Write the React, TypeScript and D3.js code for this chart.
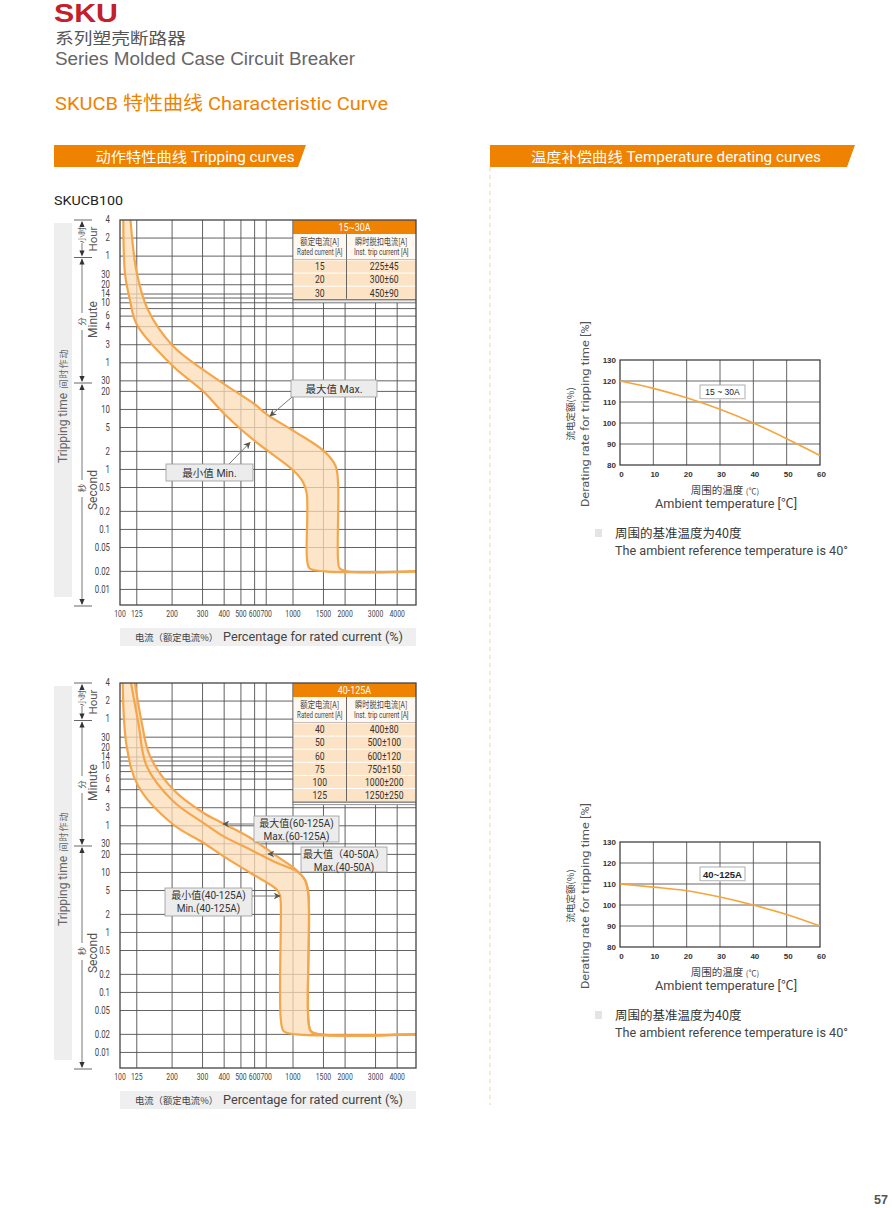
import React from 'react';
import * as d3 from 'd3';

type P = [number, number];

// ---------------- data ----------------
const CURRENT_TICKS = [100, 125, 200, 300, 400, 500, 600, 700, 1000, 1500, 2000, 3000, 4000];
const TIME_TICK_SECONDS = [14400, 7200, 3600, 1800, 1200, 840, 600, 360, 240, 120, 60, 30, 20, 10, 5, 2, 1, 0.5, 0.2, 0.1, 0.05, 0.02, 0.01];
const TIME_TICK_LABELS = ['4', '2', '1', '30', '20', '14', '10', '6', '4', '3', '1', '30', '20', '10', '5', '2', '1', '0.5', '0.2', '0.1', '0.05', '0.02', '0.01'];
const EXTRA_GRID_SECONDS = [720, 480];

// [percent of rated current, seconds]
const MAX_15_30: P[] = [
  [115, 14400], [125, 1900], [145, 460], [203, 113], [302, 46], [404, 26], [603, 12.1], [705, 8.3],
  [1013, 4.35], [1511, 2.02], [1760, 1.15], [1820, 0.62], [1820, 0.032], [1860, 0.0225], [2050, 0.02], [5140, 0.02],
];
const MIN_15_30: P[] = [
  [104.5, 14400], [107, 1780], [114, 680], [125, 261], [202, 53], [302, 20.2], [404, 8.25], [603, 2.96],
  [1013, 0.94], [1140, 0.62], [1200, 0.4], [1205, 0.032], [1245, 0.0225], [1530, 0.02], [5140, 0.02],
];
const MAX_60_125: P[] = [
  [122, 14400], [133.5, 3160], [149, 870], [203, 242], [303, 99], [395, 65.6], [565, 37.9], [805, 18.7],
  [1050, 10.9], [1170, 7.6], [1226, 4.5], [1226, 0.036], [1270, 0.0225], [1430, 0.02], [5140, 0.02],
];
const MAX_40_50: P[] = [
  [115.8, 14400], [127.6, 3126], [142.7, 591], [203, 154], [303, 67.3], [395, 40.3], [565, 24.2], [805, 14.5],
  [1050, 10.5], [1170, 7.6], [1226, 4.5], [1226, 0.036], [1270, 0.0225], [1430, 0.02], [5140, 0.02],
];
const MIN_40_125: P[] = [
  [103.7, 14400], [109.3, 1274], [127.6, 274], [203, 63], [303, 31.3], [395, 18.7], [565, 9.9], [805, 5.2],
  [840, 4.2], [850, 3.0], [850, 0.036], [885, 0.0225], [1050, 0.02], [5140, 0.02],
];

const TABLE_15_30_RATED = ['15', '20', '30'];
const TABLE_15_30_TRIP = ['225±45', '300±60', '450±90'];
const TABLE_40_125_RATED = ['40', '50', '60', '75', '100', '125'];
const TABLE_40_125_TRIP = ['400±80', '500±100', '600±120', '750±150', '1000±200', '1250±250'];

const TEMP_X = [0, 10, 20, 30, 40, 50, 60];
const TEMP_Y_TICKS = [80, 90, 100, 110, 120, 130];
const DERATE_15_30 = [120, 116.5, 112, 106.5, 100, 92.5, 84.5];
const DERATE_40_125 = [110, 108.5, 106.8, 103.8, 100, 95.5, 90];

// ---------------- styles ----------------
const ORANGE = '#ef8200';
const CURVE = '#f6a64a';
const BAND = '#fcdcb8';
const GRID = '#505050';
const LAT = "Roboto, 'Noto Sans CJK SC', sans-serif";
const CJK = "'Noto Sans CJK SC', sans-serif";
const ARIAL = "'Liberation Sans', Arial, 'Noto Sans CJK SC', sans-serif";

// ---------------- scales ----------------
const PL = 120, PR = 416, PT = 220, PB = 605;
const xS = d3.scaleLog().domain([100, 5140]).range([PL, PR]);
const yS = d3.scaleLog().domain([0.0055, 14400]).range([PB, PT]);
const lineGen = d3.line<P>().x(d => xS(d[0])).y(d => yS(d[1])).curve(d3.curveCatmullRom.alpha(0.5));

function bandPath(upper: P[], lower: P[]) {
  const a = lineGen(upper.slice(0, -1)) as string;
  const b = lineGen(lower.slice(0, -1).reverse()) as string;
  return a + 'L' + b.slice(1) + 'Z';
}

// condensed text (horizontal squeeze)
function CT({ x, y, anchor = 'middle', size = 9.5, fill = '#444', sx = 0.78, children, family = LAT }:
  { x: number; y: number; anchor?: string; size?: number; fill?: string; sx?: number; children: React.ReactNode; family?: string }) {
  return (
    <text transform={`translate(${x},${y}) scale(${sx},1)`} textAnchor={anchor as any} dominantBaseline="central"
      fontFamily={family} fontSize={size} fill={fill}>{children}</text>
  );
}

function Tri({ x, y, up, fill = '#333' }: { x: number; y: number; up: boolean; fill?: string }) {
  const d = up ? `M${x},${y}L${x - 2.6},${y + 6}L${x + 2.6},${y + 6}Z` : `M${x},${y}L${x - 2.6},${y - 6}L${x + 2.6},${y - 6}Z`;
  return <path d={d} fill={fill} />;
}

function YAxisDecor() {
  const lx = 82;
  return (
    <g>
      <rect x={54} y={223} width={18} height={374} fill="#eeeeee" />
      {['动', '作', '时', '间'].map((c, i) => (
        <text key={c} transform={`translate(63,${354 + i * 10}) rotate(-90)`} textAnchor="middle" dominantBaseline="central"
          fontFamily={CJK} fontSize={9} fill="#666">{c}</text>
      ))}
      <text transform="translate(63,428) rotate(-90)" textAnchor="middle" dominantBaseline="central" fontFamily={LAT} fontSize={12} fill="#666">Tripping time</text>
      {[220, 257.5, 383, 606].map(y => (
        <line key={y} x1={74} x2={92} y1={y} y2={y} stroke="#555" strokeWidth={0.9} />
      ))}
      {/* hour */}
      <line x1={lx} x2={lx} y1={222} y2={227} stroke="#555" strokeWidth={0.8} />
      <line x1={lx} x2={lx} y1={243} y2={255} stroke="#555" strokeWidth={0.8} />
      <Tri x={lx} y={221} up />
      <Tri x={lx} y={256.5} up={false} />
      <text transform={`translate(${lx - 1},235) rotate(-90)`} textAnchor="middle" dominantBaseline="central" fontFamily={CJK} fontSize={8} fill="#555">小时</text>
      <text transform="translate(93,239) rotate(-90)" textAnchor="middle" dominantBaseline="central" fontFamily={LAT} fontSize={11.5} fill="#555">Hour</text>
      {/* minute */}
      <line x1={lx} x2={lx} y1={259} y2={313} stroke="#555" strokeWidth={0.8} />
      <line x1={lx} x2={lx} y1={330} y2={381} stroke="#555" strokeWidth={0.8} />
      <Tri x={lx} y={258.5} up />
      <Tri x={lx} y={382} up={false} />
      <text transform={`translate(${lx - 1},321.5) rotate(-90)`} textAnchor="middle" dominantBaseline="central" fontFamily={CJK} fontSize={8.5} fill="#555">分</text>
      <text transform="translate(93,319.5) rotate(-90)" textAnchor="middle" dominantBaseline="central" fontFamily={LAT} fontSize={12} fill="#555">Minute</text>
      {/* second */}
      <line x1={lx} x2={lx} y1={385} y2={480} stroke="#555" strokeWidth={0.8} />
      <line x1={lx} x2={lx} y1={497} y2={604} stroke="#555" strokeWidth={0.8} />
      <Tri x={lx} y={384} up />
      <Tri x={lx} y={605} up={false} />
      <text transform={`translate(${lx - 1},488) rotate(-90)`} textAnchor="middle" dominantBaseline="central" fontFamily={CJK} fontSize={8.5} fill="#555">秒</text>
      <text transform="translate(93,490) rotate(-90)" textAnchor="middle" dominantBaseline="central" fontFamily={LAT} fontSize={12} fill="#555">Second</text>
    </g>
  );
}

function TripTable({ title, rated, trip }: { title: string; rated: string[]; trip: string[] }) {
  const x0 = xS(1000), x1 = 346.5, x2 = PR;
  const headH = 14, subH = 25.5, rowH = 13.1;
  const y0 = PT;
  const yRows = y0 + headH + subH;
  const yEnd = yRows + rowH * rated.length;
  return (
    <g>
      <rect x={x0} y={y0} width={x2 - x0} height={yEnd - y0 + 4} fill="#ffffff" />
      <rect x={x0} y={y0} width={x2 - x0} height={headH} fill={ORANGE} />
      <CT x={(x0 + x2) / 2} y={y0 + headH / 2 + 0.5} size={10.5} fill="#fff" sx={0.85}>{title}</CT>
      <rect x={x0} y={y0 + headH} width={x2 - x0} height={subH} fill="#fff8f0" />
      <CT x={(x0 + x1) / 2} y={y0 + headH + 7} size={9} family={CJK} fill="#444" sx={0.82}>额定电流[A]</CT>
      <CT x={(x0 + x1) / 2} y={y0 + headH + 18.5} size={8.5} fill="#444" sx={0.72}>Rated current [A]</CT>
      <CT x={(x1 + x2) / 2} y={y0 + headH + 7} size={9} family={CJK} fill="#444" sx={0.8}>瞬时脱扣电流[A]</CT>
      <CT x={(x1 + x2) / 2} y={y0 + headH + 18.5} size={8.5} fill="#444" sx={0.76}>Inst. trip current [A]</CT>
      {rated.map((r, i) => (
        <g key={r}>
          <rect x={x0} y={yRows + i * rowH + 1} width={x2 - x0} height={rowH - 1} fill="#fde3c5" />
          <CT x={(x0 + x1) / 2} y={yRows + i * rowH + rowH / 2 + 0.5} size={10.5} fill="#333" sx={0.82}>{r}</CT>
          <CT x={(x1 + x2) / 2 + 3} y={yRows + i * rowH + rowH / 2 + 0.5} size={10.5} fill="#333" sx={0.82}>{trip[i]}</CT>
        </g>
      ))}
      <line x1={x0} x2={x0} y1={y0} y2={yEnd + 4} stroke="#777" strokeWidth={0.8} />
      <line x1={x1} x2={x1} y1={y0 + headH} y2={yEnd} stroke="#555" strokeWidth={0.9} />
      <line x1={x0} x2={x2} y1={yRows} y2={yRows} stroke="#999" strokeWidth={0.6} />
      <line x1={x0} x2={x2} y1={yEnd + 1} y2={yEnd + 1} stroke="#444" strokeWidth={1} />
      <line x1={x0} x2={x2} y1={yEnd + 3.5} y2={yEnd + 3.5} stroke="#666" strokeWidth={0.7} />
    </g>
  );
}

type Note = { lines: string[]; x: number; y: number; w: number; h: number; from: P; to: P; size: number };

function TripChart({ dy, maxCurves, minCurve, bandUpper, title, rated, trip, notes, clipId }:
  { dy: number; maxCurves: P[][]; minCurve: P[]; bandUpper: P[]; title: string; rated: string[]; trip: string[]; notes: Note[]; clipId: string }) {
  const gridY = [...TIME_TICK_SECONDS.slice(1), ...EXTRA_GRID_SECONDS];
  return (
    <g transform={`translate(0,${dy})`}>
      <defs>
        <clipPath id={clipId}><rect x={PL} y={PT} width={PR - PL} height={PB - PT} /></clipPath>
        <marker id={clipId + 'arr'} viewBox="0 0 10 10" refX={9} refY={5} markerWidth={7} markerHeight={7} orient="auto">
          <path d="M0,0 L10,5 L0,10 L3,5 Z" fill="#555" />
        </marker>
      </defs>
      <YAxisDecor />
      <rect x={PL} y={PT} width={PR - PL} height={PB - PT} fill="#fff" />
      {CURRENT_TICKS.slice(1).map(v => (
        <line key={'v' + v} x1={xS(v)} x2={xS(v)} y1={PT} y2={PB} stroke={GRID} strokeWidth={0.9} />
      ))}
      {gridY.map(v => (
        <line key={'h' + v} x1={PL} x2={PR} y1={yS(v)} y2={yS(v)} stroke={GRID} strokeWidth={0.9} />
      ))}
      <g clipPath={`url(#${clipId})`}>
        <path d={bandPath(bandUpper, minCurve)} fill={BAND} fillOpacity={0.75} />
        {maxCurves.map((c, i) => (
          <path key={i} d={lineGen(c) as string} fill="none" stroke={CURVE} strokeWidth={2.2} />
        ))}
        <path d={lineGen(minCurve) as string} fill="none" stroke={CURVE} strokeWidth={2.2} />
      </g>
      <TripTable title={title} rated={rated} trip={trip} />
      <rect x={PL} y={PT} width={PR - PL} height={PB - PT} fill="none" stroke="#444" strokeWidth={1.3} />
      {TIME_TICK_SECONDS.map((v, i) => (
        <CT key={'yl' + i} x={110} y={yS(v)} anchor="end" size={10}>{TIME_TICK_LABELS[i]}</CT>
      ))}
      {CURRENT_TICKS.map(v => (
        <CT key={'xl' + v} x={xS(v)} y={614} size={9.5} sx={0.72}>{v}</CT>
      ))}
      <rect x={PL} y={628} width={PR - PL} height={18} fill="#efefef" />
      <text x={135} y={641} fontFamily={CJK} fontSize={9.5} fill="#444" textLength={83} lengthAdjust="spacingAndGlyphs">电流（额定电流%）</text>
      <text x={223} y={641} fontFamily={LAT} fontSize={12} fill="#444" textLength={180} lengthAdjust="spacingAndGlyphs">Percentage for rated current (%)</text>
      {notes.map((n, i) => (
        <g key={'n' + i}>
          <line x1={n.from[0]} y1={n.from[1]} x2={n.to[0]} y2={n.to[1]} stroke="#777" strokeWidth={1} markerEnd={`url(#${clipId}arr)`} />
          <rect x={n.x} y={n.y} width={n.w} height={n.h} fill="#ececec" stroke="#9a9a9a" strokeWidth={0.8} />
          {n.lines.map((l, j) => (
            <text key={j} x={n.x + n.w / 2} y={n.y + (n.lines.length === 1 ? n.h / 2 + 0.5 : 7.5 + j * 12.5)} textAnchor="middle" dominantBaseline="central"
              fontFamily={LAT} fontSize={n.size} fill="#333">{l}</text>
          ))}
        </g>
      ))}
    </g>
  );
}

const xT = d3.scaleLinear().domain([0, 60]).range([620, 820]);
const yT = d3.scaleLinear().domain([80, 130]).range([465, 360]);
const tempLine = d3.line<number>().x((_, i) => xT(TEMP_X[i])).y(d => yT(d)).curve(d3.curveMonotoneX);

function TempChart({ dy, values, label, bold }: { dy: number; values: number[]; label: string; bold?: boolean }) {
  return (
    <g transform={`translate(0,${dy})`}>
      <rect x={620} y={360} width={200} height={105} fill="#fff" />
      {TEMP_X.slice(1, -1).map(v => (
        <line key={'tv' + v} x1={xT(v)} x2={xT(v)} y1={360} y2={465} stroke="#555" strokeWidth={0.9} />
      ))}
      {TEMP_Y_TICKS.slice(1, -1).map(v => (
        <line key={'th' + v} x1={620} x2={820} y1={yT(v)} y2={yT(v)} stroke="#555" strokeWidth={0.9} />
      ))}
      <rect x={620} y={360} width={200} height={105} fill="none" stroke="#333" strokeWidth={1.2} />
      <path d={tempLine(values) as string} fill="none" stroke="#f5a53c" strokeWidth={1.6} />
      {TEMP_Y_TICKS.map(v => (
        <text key={'ty' + v} x={616} y={yT(v)} textAnchor="end" dominantBaseline="central" fontFamily={ARIAL} fontSize={8} fontWeight={700} fill="#333">{v}</text>
      ))}
      {TEMP_X.map(v => (
        <text key={'tx' + v} x={xT(v) + 1.5} y={474} textAnchor="middle" dominantBaseline="central" fontFamily={ARIAL} fontSize={8} fontWeight={700} fill="#333">{v}</text>
      ))}
      <rect x={700} y={385} width={45} height={13.5} fill="#fff" stroke="#999" strokeWidth={0.8} />
      <rect x={701} y={398.5} width={45} height={1} fill="#ddd" />
      <text x={722.5} y={392} textAnchor="middle" dominantBaseline="central" fontFamily={ARIAL} fontSize={bold ? 9.5 : 8.5} fontWeight={bold ? 700 : 400} fill="#222">{label}</text>
      <text transform="translate(570,414) rotate(-90)" textAnchor="middle" dominantBaseline="central" fontFamily={CJK} fontSize={9.5} fill="#444">流电定额(%)</text>
      <text transform="translate(585,414) rotate(-90)" textAnchor="middle" dominantBaseline="central" fontFamily={LAT} fontSize={11.5} fill="#555" textLength={186} lengthAdjust="spacingAndGlyphs">Derating rate for tripping time [%]</text>
      <text x={725} y={494} textAnchor="middle" fontFamily={CJK} fontSize={10.5} fill="#444">周围的温度 <tspan fontSize={8}>(℃)</tspan></text>
      <text x={726} y={508} textAnchor="middle" fontFamily={LAT} fontSize={12} fill="#444" textLength={142} lengthAdjust="spacingAndGlyphs">Ambient temperature [℃]</text>
      <rect x={595} y={529} width={7} height={8} fill="#e4e4e4" />
      <text x={615} y={538} fontFamily={CJK} fontSize={12.5} fill="#333">周围的基准温度为40度</text>
      <text x={615} y={555} fontFamily={LAT} fontSize={12} fill="#444" textLength={233} lengthAdjust="spacingAndGlyphs">The ambient reference temperature is 40°</text>
    </g>
  );
}

const NOTES_TOP: Note[] = [
  { lines: ['最大值 Max.'], x: 291, y: 380, w: 86, h: 17, from: [292, 397], to: [270, 416], size: 10.5 },
  { lines: ['最小值 Min.'], x: 166, y: 464, w: 87, h: 17, from: [229, 464], to: [250, 442.5], size: 10.5 },
];
const NOTES_BOTTOM: Note[] = [
  { lines: ['最大值(60-125A)', 'Max.(60-125A)'], x: 254, y: 353, w: 85, h: 26, from: [254, 361], to: [223, 361], size: 10 },
  { lines: ['最大值（40-50A）', 'Max.(40-50A)'], x: 301, y: 384, w: 86, h: 25, from: [301, 391], to: [268, 391], size: 10 },
  { lines: ['最小值(40-125A)', 'Min.(40-125A)'], x: 165, y: 425, w: 87, h: 28, from: [252, 433], to: [280, 433], size: 10 },
];

export default function App() {
  return (
    <svg width={892} height={1208} viewBox="0 0 892 1208" style={{ position: 'absolute', left: 0, top: 0, background: '#fff' }}>
      <rect x={0} y={0} width={892} height={1208} fill="#fff" />
      {/* header */}
      <text x={54} y={22} fontFamily={ARIAL} fontWeight={700} fontSize={25} fill="#c3202c" textLength={64} lengthAdjust="spacingAndGlyphs">SKU</text>
      <text x={55} y={43.5} fontFamily={CJK} fontSize={15.5} fill="#555" textLength={131} lengthAdjust="spacingAndGlyphs">系列塑壳断路器</text>
      <text x={55} y={64.5} fontFamily={ARIAL} fontSize={17.5} fill="#666" textLength={300} lengthAdjust="spacingAndGlyphs">Series Molded Case Circuit Breaker</text>
      <text x={55} y={110} fontFamily={LAT} fontSize={19} fill={ORANGE} textLength={333} lengthAdjust="spacingAndGlyphs">SKUCB 特性曲线  Characteristic Curve</text>

      {/* section bars */}
      <path d="M54,145 L306,145 L298,167 L54,167 Z" fill={ORANGE} />
      <text x={195} y={156.5} textAnchor="middle" dominantBaseline="central" fontFamily={LAT} fontSize={14} fill="#fff" textLength={199} lengthAdjust="spacingAndGlyphs">动作特性曲线 Tripping curves</text>
      <path d="M490,145 L855,145 L847,167 L490,167 Z" fill={ORANGE} />
      <text x={676} y={156.5} textAnchor="middle" dominantBaseline="central" fontFamily={LAT} fontSize={14} fill="#fff" textLength={290} lengthAdjust="spacingAndGlyphs">温度补偿曲线 Temperature derating curves</text>
      <line x1={490} x2={490} y1={167} y2={1105} stroke="#f6cfa8" strokeWidth={1} strokeDasharray="4,4" />

      <text x={54} y={205} fontFamily={LAT} fontSize={13} fill="#222" textLength={69} lengthAdjust="spacingAndGlyphs">SKUCB100</text>

      <TripChart dy={0} maxCurves={[MAX_15_30]} minCurve={MIN_15_30} bandUpper={MAX_15_30} title="15~30A"
        rated={TABLE_15_30_RATED} trip={TABLE_15_30_TRIP} notes={NOTES_TOP} clipId="c1" />
      <TripChart dy={463} maxCurves={[MAX_60_125, MAX_40_50]} minCurve={MIN_40_125} bandUpper={MAX_60_125} title="40-125A"
        rated={TABLE_40_125_RATED} trip={TABLE_40_125_TRIP} notes={NOTES_BOTTOM} clipId="c2" />

      <TempChart dy={0} values={DERATE_15_30} label="15 ~ 30A" />
      <TempChart dy={482} values={DERATE_40_125} label="40~125A" bold />

      <text x={888} y={1204} textAnchor="end" fontFamily={ARIAL} fontWeight={700} fontSize={12.5} fill="#555">57</text>
    </svg>
  );
}
